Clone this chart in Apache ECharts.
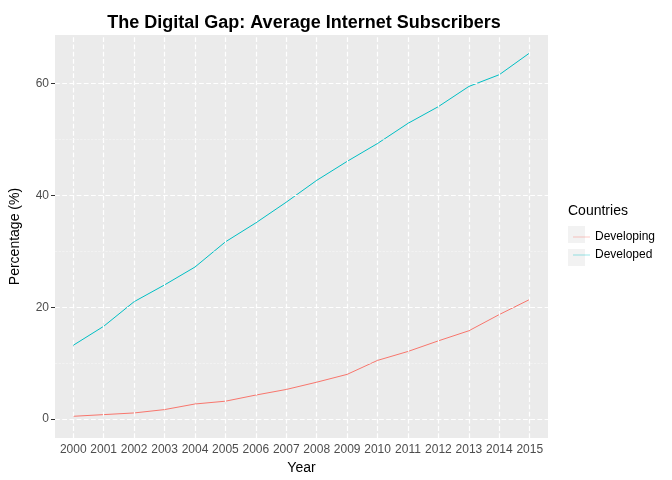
<!DOCTYPE html>
<html>
<head>
<meta charset="utf-8">
<script src="https://cdn.jsdelivr.net/npm/echarts@6/dist/echarts.min.js"></script>
<style>body{margin:0}#main{width:672px;height:480px}</style>
</head>
<body>
<div id="main"></div>
<script>
var years = [2000,2001,2002,2003,2004,2005,2006,2007,2008,2009,2010,2011,2012,2013,2014,2015];
var developing = [0.5,0.8,1.1,1.7,2.7,3.2,4.3,5.3,6.6,8.0,10.5,12.1,14.0,15.8,18.7,21.4];
var developed = [13.2,16.6,21.0,24.0,27.2,31.7,35.1,38.8,42.7,46.1,49.3,52.9,55.9,59.5,61.6,65.5];
var yTicks = [0,20,40,60];
var yMinor = [10,30,50];

function pairs(v){ return years.map(function(y,i){ return [y, v[i]]; }); }
var grey = '#4d4d4d';
var gridLines = [];
years.forEach(function(y){ gridLines.push({xAxis: y, lineStyle: {color: '#fff', width: 1.2}}); });
yTicks.forEach(function(v){ gridLines.push({yAxis: v, lineStyle: {color: '#fff', width: 1.2}}); });
yMinor.forEach(function(v){ gridLines.push({yAxis: v, lineStyle: {color: '#f6f6f6', width: 0.6}}); });

var myChart = echarts.init(document.getElementById('main'));
var option = {
    backgroundColor: '#fff',
    title: {
        text: 'The Digital Gap: Average Internet Subscribers',
        left: 299, top: 9, textAlign: 'center',
        textStyle: {fontFamily: 'Liberation Sans', fontSize: 18, fontWeight: 'bold', color: '#000'}
    },
    grid: {left: 50, right: 124, top: 35, bottom: 40, show: true, backgroundColor: '#EBEBEB', borderWidth: 0},
    legend: {
        orient: 'vertical', left: 568, top: 226, itemGap: 6, itemWidth: 17, itemHeight: 17,
        icon: 'path://M0,8.3H17V8.7H0Z',
        textStyle: {fontFamily: 'Liberation Sans', fontSize: 12, color: '#000'},
        data: ['Developing', 'Developed']
    },
    graphic: [
        {type: 'text', left: 568, top: 204, style: {text: 'Countries', font: '14px Liberation Sans', fill: '#000'}},
        {type: 'rect', left: 568, top: 226, z: -1, shape: {width: 17, height: 17}, style: {fill: '#F2F2F2'}},
        {type: 'rect', left: 568, top: 249, z: -1, shape: {width: 17, height: 17}, style: {fill: '#F2F2F2'}}
    ],
    xAxis: {
        type: 'value', min: 1999.4, max: 2015.6,
        name: 'Year', nameLocation: 'middle', nameGap: 22,
        nameTextStyle: {fontFamily: 'Liberation Sans', fontSize: 14, color: '#000'},
        axisLine: {show: false},
        axisTick: {show: true, customValues: years, length: 4, lineStyle: {color: '#333'}},
        axisLabel: {customValues: years, formatter: function(v){ return String(v); },
                    color: grey, fontSize: 12, fontFamily: 'Liberation Sans', margin: 6},
        splitLine: {show: false}
    },
    yAxis: {
        type: 'value', min: -3.4, max: 68.7,
        name: 'Percentage (%)', nameLocation: 'middle', nameGap: 33,
        nameTextStyle: {fontFamily: 'Liberation Sans', fontSize: 14, color: '#000'},
        axisLine: {show: false},
        axisTick: {show: true, customValues: yTicks, length: 4, lineStyle: {color: '#333'}},
        axisLabel: {customValues: yTicks, color: grey, fontSize: 12, fontFamily: 'Liberation Sans', margin: 6},
        splitLine: {show: false}
    },
    series: [
        {name: 'grid', type: 'line', data: [], z: 1, silent: true,
         markLine: {silent: true, symbol: 'none', label: {show: false}, animation: false, data: gridLines}},
        {name: 'Developing', type: 'line', data: pairs(developing), showSymbol: false, z: 3,
         lineStyle: {width: 1, color: '#F8766D'}, itemStyle: {color: '#F8766D'}},
        {name: 'Developed', type: 'line', data: pairs(developed), showSymbol: false, z: 3,
         lineStyle: {width: 1, color: '#00BFC4'}, itemStyle: {color: '#00BFC4'}}
    ]
};
myChart.setOption(option);
</script>
</body>
</html>
